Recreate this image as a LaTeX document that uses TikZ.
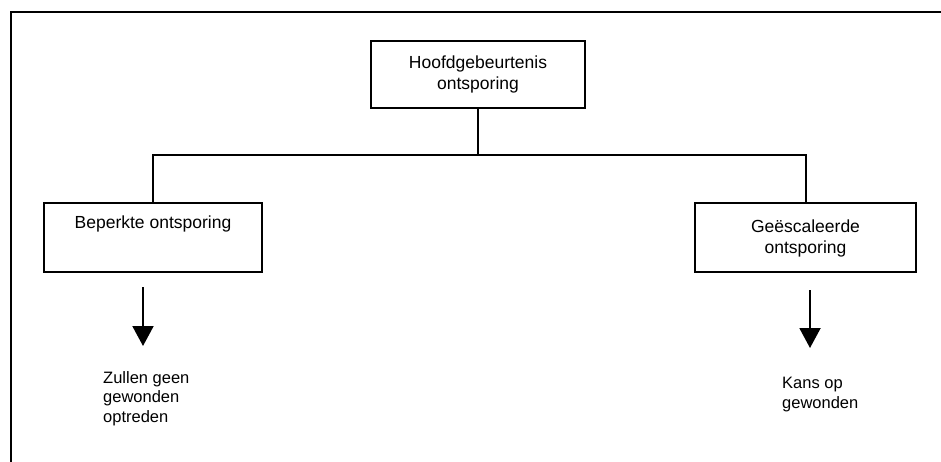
\documentclass[tikz,border=0pt]{standalone}
\usepackage{fontspec}
\setmainfont{Liberation Sans}
\usetikzlibrary{arrows.meta}

\begin{document}
\begin{tikzpicture}[x=1pt,y=-1pt,
  box/.style={draw, line width=2.4pt, rectangle, inner sep=0pt},
  boxtext/.style={font=\fontsize{17.5}{21}\selectfont, align=center, inner sep=0pt},
  note/.style={font=\fontsize{16.5}{19.5}\selectfont, align=left, anchor=north west, inner sep=0pt},
  link/.style={line width=2pt},
  outcome/.style={line width=2pt, -{Triangle[length=20pt,width=21pt]}}]

  \useasboundingbox (0,0) rectangle (941,462);

  % open frame: top edge and left edge only
  \coordinate (frameTR) at (941,12);
  \coordinate (frameTL) at (11,12);
  \coordinate (frameBL) at (11,462);
  \draw[line width=2.2pt] (frameTR) -- (frameTL) -- (frameBL);

  % top event
  \node[box, minimum width=214pt, minimum height=67pt] (top) at (478,74.5) {};
  \node[boxtext] (toptext) at (top.center) {Hoofdgebeurtenis\\ontsporing};

  % the two consequences
  \node[box, minimum width=218pt, minimum height=69pt] (left) at (153,237.5) {};
  \node[boxtext] (lefttext) at (153,224) {Beperkte ontsporing};

  \node[box, minimum width=221pt, minimum height=69pt] (right) at (805.5,237.5) {};
  \node[boxtext] (righttext) at (805.5,238.5) {Geëscaleerde\\ontsporing};

  % tree connectors
  \coordinate (bus) at (478,155);
  \draw[link] (top.south) -- (bus);
  \draw[link] (left.north) -- (left.north |- bus) -- (right.north |- bus) -- (right.north);

  % arrows towards the effects
  \coordinate (la0) at (143,287);
  \coordinate (la1) at (143,346);
  \coordinate (ra0) at (810,290);
  \coordinate (ra1) at (810,348);
  \draw[outcome] (la0) -- (la1);
  \draw[outcome] (ra0) -- (ra1);

  % effects
  \node[note] (lefteffect) at (103,371) {Zullen geen\\gewonden\\optreden};
  \node[note] (righteffect) at (782,377) {Kans op\\gewonden};
\end{tikzpicture}
\end{document}
